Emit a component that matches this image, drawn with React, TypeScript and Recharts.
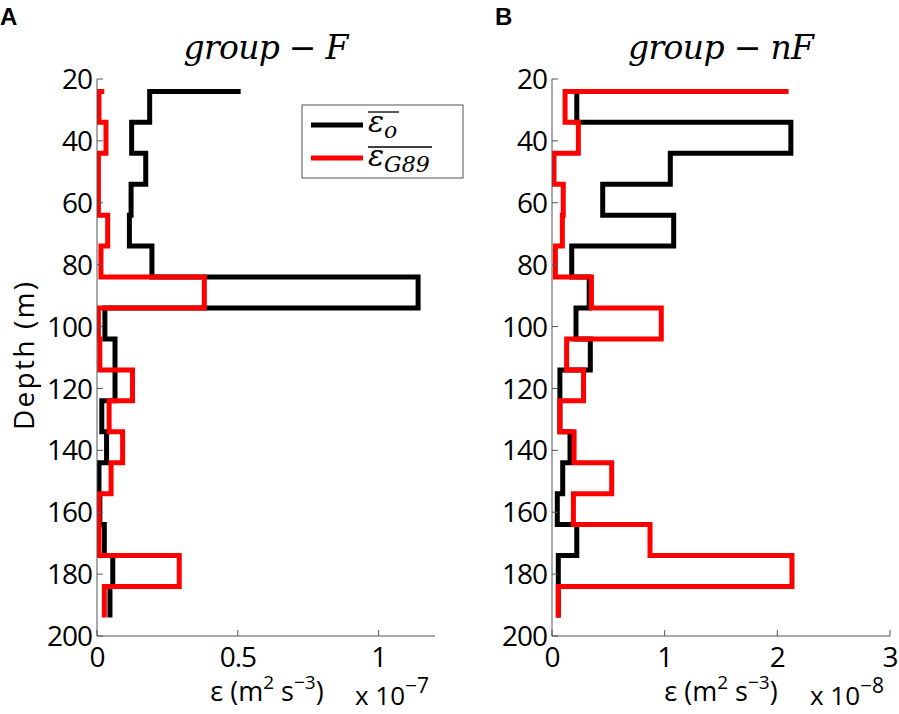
import React from 'react';
import { LineChart, Line, XAxis, YAxis } from 'recharts';

// bin edges (m) shared by both casts
const depths = [24, 34, 44, 54, 64, 74, 84, 94, 104, 114, 124, 134, 144, 154, 164, 174, 184, 194];
const depthTicks = [20, 40, 60, 80, 100, 120, 140, 160, 180, 200];

// group-F, in units of 1e-7 m2 s-3
const epsObsF = [0.51, 0.187, 0.123, 0.173, 0.121, 0.115, 0.195, 1.14, 0.028, 0.064, 0.064, 0.017, 0.034, 0.007, 0.01, 0.026, 0.056, 0.046];
const epsG89F = [0.026, 0.007, 0.032, 0.005, 0.005, 0.038, 0.014, 0.381, 0.005, 0.01, 0.126, 0.043, 0.091, 0.05, 0.007, 0.007, 0.292, 0.026];
const ticksF = [0, 0.5, 1];

// group-nF, in units of 1e-8 m2 s-3
const epsObsNF = [1.0, 0.22, 2.12, 1.05, 0.45, 1.08, 0.175, 0.33, 0.213, 0.34, 0.07, 0.07, 0.16, 0.095, 0.047, 0.22, 0.056, 0.056];
const epsG89NF = [2.1, 0.116, 0.234, 0.018, 0.1, 0.092, 0.03, 0.35, 0.97, 0.13, 0.28, 0.07, 0.196, 0.53, 0.19, 0.87, 2.13, 0.056];
const ticksNF = [0, 1, 2, 3];

const FONT = '"Open Sans", sans-serif';
const SERIF = '"DejaVu Serif", "Liberation Serif", serif';
const AXIS = '#555';

// matlab style stairs, turned on its side
function stairs(vals: number[]) {
  const pts = [{ x: vals[0], y: depths[0] }];
  for (let i = 1; i < vals.length; i++) {
    pts.push({ x: vals[i], y: depths[i - 1] });
    pts.push({ x: vals[i], y: depths[i] });
  }
  return pts;
}

const LeftTick = (p: any) => (
  <g>
    <line x1={p.x} x2={p.x + 6} y1={p.y} y2={p.y} stroke={AXIS} />
    <text x={p.x - 5} y={p.y} dy="0.36em" textAnchor="end" fontSize={28} fontFamily={FONT} letterSpacing={-1} fill="#000">
      {p.payload.value}
    </text>
  </g>
);
const RightTick = (p: any) => <line x1={p.x} x2={p.x - 6} y1={p.y} y2={p.y} stroke={AXIS} />;
const BottomTick = (p: any) => (
  <g>
    <line x1={p.x} x2={p.x} y1={p.y} y2={p.y - 6} stroke={AXIS} />
    <text x={p.x} y={p.y + 31} textAnchor="middle" fontSize={28} fontFamily={FONT} letterSpacing={-1} fill="#000">
      {p.payload.value}
    </text>
  </g>
);
const TopTick = (p: any) => <line x1={p.x} x2={p.x} y1={p.y} y2={p.y + 6} stroke={AXIS} />;

interface PanelProps {
  obs: number[];
  g89: number[];
  xMax: number;
  xTicks: number[];
  width: number;
  margin: { top: number; right: number; bottom: number; left: number };
}

function Panel({ obs, g89, xMax, xTicks, width, margin }: PanelProps) {
  const axisProps = {
    type: 'number' as const,
    dataKey: 'x',
    domain: [0, xMax],
    ticks: xTicks,
    allowDataOverflow: true,
    tickSize: 0,
    tickMargin: 0,
    tickLine: false,
    axisLine: { stroke: AXIS },
  };
  const yProps = {
    type: 'number' as const,
    domain: [20, 200],
    ticks: depthTicks,
    reversed: true,
    allowDataOverflow: true,
    tickSize: 0,
    tickMargin: 0,
    tickLine: false,
    axisLine: { stroke: AXIS },
  };
  return (
    <LineChart width={width} height={714} margin={margin}>
      <XAxis xAxisId="b" orientation="bottom" height={30} tick={BottomTick} {...axisProps} />
      <XAxis xAxisId="t" orientation="top" height={0} tick={TopTick} {...axisProps} />
      <YAxis yAxisId="l" orientation="left" width={60} tick={LeftTick} {...yProps} />
      <YAxis yAxisId="r" orientation="right" width={0} tick={RightTick} {...yProps} />
      <Line
        xAxisId="b"
        yAxisId="l"
        data={stairs(obs)}
        dataKey="y"
        stroke="#000"
        strokeWidth={5}
        strokeLinejoin="miter"
        dot={false}
        activeDot={false}
        isAnimationActive={false}
      />
      <Line
        xAxisId="b"
        yAxisId="l"
        data={stairs(g89)}
        dataKey="y"
        stroke="#ff0000"
        strokeWidth={5}
        strokeLinejoin="miter"
        dot={false}
        activeDot={false}
        isAnimationActive={false}
      />
    </LineChart>
  );
}

function XLabel({ cx, ex, exp }: { cx: number; ex: number; exp: string }) {
  return (
    <g style={{ fontFamily: FONT }} fill="#000">
      <text x={cx} y={701} textAnchor="middle" fontSize={27}>
        ε (m<tspan dy={-12} fontSize={19}>2</tspan>
        <tspan dy={12}> s</tspan>
        <tspan dy={-12} fontSize={19}>−3</tspan>
        <tspan dy={12}>)</tspan>
      </text>
      <text x={ex} y={705} fontSize={26}>
        x 10<tspan dy={-12} fontSize={21}>{exp}</tspan>
      </text>
    </g>
  );
}

export default function App() {
  return (
    <div style={{ position: 'absolute', left: 0, top: 0, width: 899, height: 714, background: '#fff' }}>
      <div style={{ position: 'absolute', left: 0, top: 0 }}>
        <Panel obs={epsObsF} g89={epsG89F} xMax={1.2} xTicks={ticksF} width={460}
          margin={{ top: 79, right: 25, bottom: 48, left: 37 }} />
      </div>
      <div style={{ position: 'absolute', left: 450, top: 0 }}>
        <Panel obs={epsObsNF} g89={epsG89NF} xMax={3} xTicks={ticksNF} width={449}
          margin={{ top: 79, right: 9, bottom: 48, left: 42 }} />
      </div>
      <svg width={899} height={714} style={{ position: 'absolute', left: 0, top: 0, pointerEvents: 'none' }}>
        <text x={0} y={25} fontSize={24} fontWeight="bold" style={{ fontFamily: '"Liberation Sans", sans-serif' }}>A</text>
        <text x={495} y={25} fontSize={24} fontWeight="bold" style={{ fontFamily: '"Liberation Sans", sans-serif' }}>B</text>

        <text x={266} y={59} textAnchor="middle" fontSize={33} fontStyle="italic" style={{ fontFamily: SERIF }} textLength={165}>
          group − F
        </text>
        <text x={721} y={59} textAnchor="middle" fontSize={33} fontStyle="italic" style={{ fontFamily: SERIF }} textLength={186}>
          group − nF
        </text>

        <text transform="translate(34,356) rotate(-90)" textAnchor="middle" fontSize={28} style={{ fontFamily: FONT }} textLength={148}>
          Depth (m)
        </text>

        <XLabel cx={267} ex={355} exp="−7" />
        <XLabel cx={721} ex={810} exp="−8" />

        {/* legend */}
        <rect x={302} y={105} width={161} height={73} fill="#fff" stroke={AXIS} />
        <line x1={311} x2={363} y1={125} y2={125} stroke="#000" strokeWidth={5} />
        <line x1={311} x2={363} y1={158} y2={158} stroke="#ff0000" strokeWidth={5} />
        <line x1={368} x2={399} y1={112} y2={112} stroke="#000" strokeWidth={1.3} />
        <line x1={368} x2={432} y1={147} y2={147} stroke="#000" strokeWidth={1.3} />
        <text x={368} y={132} fontSize={30} fontStyle="italic" style={{ fontFamily: SERIF }}>
          ε<tspan dy={6} fontSize={22}>o</tspan>
        </text>
        <text x={368} y={166} fontSize={30} fontStyle="italic" style={{ fontFamily: SERIF }}>
          ε<tspan dy={6} fontSize={22}>G89</tspan>
        </text>
      </svg>
    </div>
  );
}
